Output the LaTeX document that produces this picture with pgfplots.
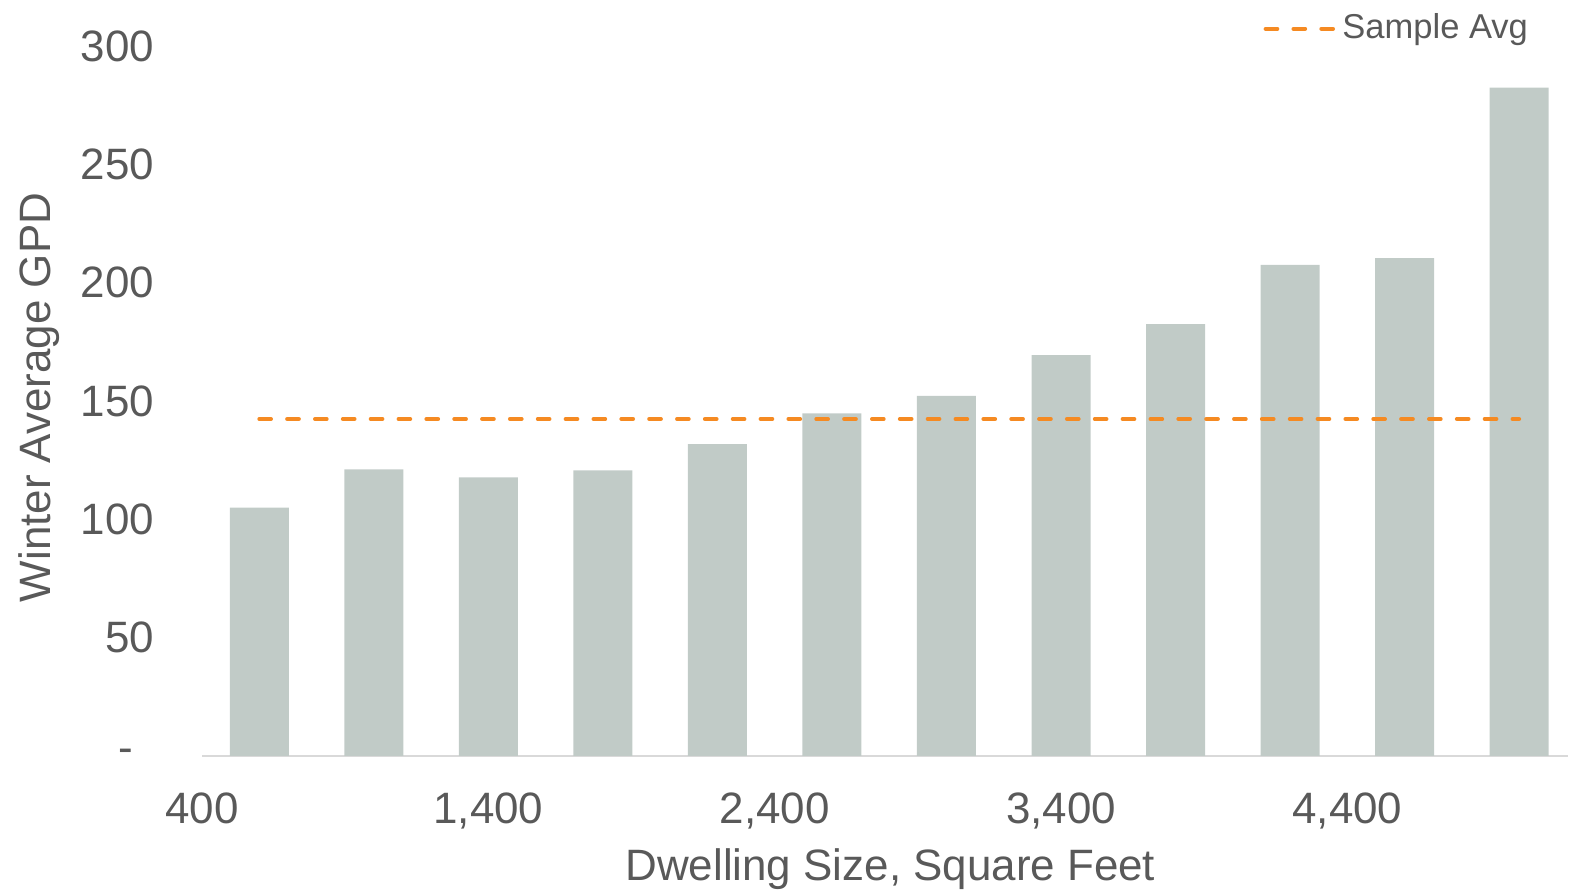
\documentclass[border=0pt]{standalone}
\usepackage{fontspec}
\setmainfont{Liberation Sans}
\usepackage{pgfplots}
\usepackage{pgfplotstable}
\pgfplotsset{compat=1.18}

\definecolor{barfill}{HTML}{C1CBC7}
\definecolor{avgorange}{HTML}{F58A22}
\definecolor{txtgray}{HTML}{595959}
\definecolor{axisgray}{HTML}{D9D9D9}

% winter average gallons per day by dwelling size bin
\pgfplotstableread{
size gpd
600  104.9
1000 121.1
1400 117.7
1800 120.7
2200 131.8
2600 144.8
3000 152.2
3400 169.4
3800 182.5
4200 207.5
4600 210.4
5000 282.5
}\gpdtable

% sample average across all homes
\pgfplotstableread{
size avg
600  142.4
5000 142.4
}\avgtable

\begin{document}
\begin{tikzpicture}
\begin{axis}[
  scale only axis,
  width=348.2pt, height=180.9pt,
  xmin=400, xmax=5170, ymin=0, ymax=300,
  xtick={400,1400,2400,3400,4400},
  xticklabels={400,{1,400},{2,400},{3,400},{4,400}},
  ytick={0,50,...,300},
  yticklabels={{-\rule{5.4pt}{0pt}},50,100,150,200,250,300},
  major tick length=0pt,
  axis x line*=bottom, axis y line*=left,
  y axis line style={draw=none},
  x axis line style={draw=axisgray, line width=0.6pt, -},
  tick label style={font=\fontsize{11.2}{13}\selectfont, text=txtgray},
  yticklabel style={anchor=east, xshift=-8.7pt},
  xticklabel style={anchor=north, yshift=-5.8pt},
  label style={font=\fontsize{11.2}{13}\selectfont, text=txtgray},
  xlabel={Dwelling Size, Square Feet},
  ylabel={Winter Average GPD},
  xlabel style={at={(axis description cs:0.504,-0.1752)}, anchor=base},
  ylabel style={at={(axis description cs:-0.1111,0.505)}, anchor=base},
  legend style={draw=none, fill=none, at={(axis description cs:0.7767,1.0245)},
    anchor=west, inner sep=0pt, font=\fontsize{8.8}{11}\selectfont, text=txtgray,
    nodes={inner xsep=1.5pt}},
  legend cell align=left,
  legend image code/.code={\draw[#1] (0pt,0pt) -- (17.6pt,0pt);},
]
\addplot[ybar, bar width=206, fill=barfill, draw=none, forget plot]
  table[x=size, y=gpd] {\gpdtable};
\addplot[avgorange, line width=1pt, line cap=round,
  dash pattern=on 3pt off 4.1pt]
  table[x=size, y=avg] {\avgtable};
\addlegendentry{Sample Avg}
\end{axis}
\pgfresetboundingbox
\path[use as bounding box] (-51.5pt,-34.23pt) rectangle (348.5pt,192.68pt);
\end{tikzpicture}
\end{document}
